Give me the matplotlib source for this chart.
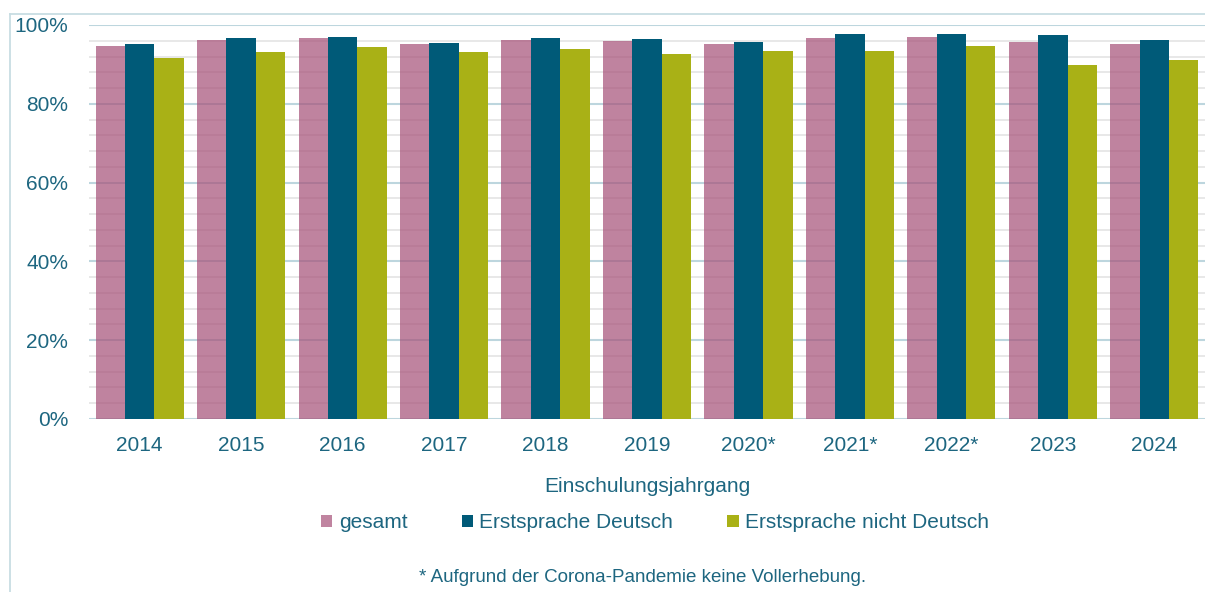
import matplotlib
matplotlib.use("Agg")
import matplotlib.pyplot as plt
import numpy as np
from matplotlib.ticker import MultipleLocator, FuncFormatter

years = ["2014", "2015", "2016", "2017", "2018", "2019", "2020*", "2021*", "2022*", "2023", "2024"]
gesamt = [94.7, 96.3, 96.6, 95.3, 96.3, 95.9, 95.3, 96.6, 97.0, 95.7, 95.1]
deutsch = [95.3, 96.8, 97.0, 95.5, 96.8, 96.5, 95.7, 97.7, 97.7, 97.5, 96.2]
nicht_deutsch = [91.6, 93.2, 94.3, 93.1, 93.9, 92.6, 93.4, 93.4, 94.7, 89.8, 91.1]
series_names = ["gesamt", "Erstsprache Deutsch", "Erstsprache nicht Deutsch"]

# pink drawn semi-transparent so gridlines show through (as in reference)
colors = ["#a54f77", "#005a78", "#a9b116"]
alphas = [0.7, 1.0, 1.0]
txt = "#1d6680"

plt.rcParams['font.family'] = ['Liberation Sans', 'DejaVu Sans']

fig = plt.figure(figsize=(12.05, 5.92), dpi=100)
ax = fig.add_axes([89/1205, 1-419/592, 1-89/1205, (419-25)/592])

x = np.arange(len(years))
w = 0.29
series = [gesamt, deutsch, nicht_deutsch]
for i, (vals, c, a, n) in enumerate(zip(series, colors, alphas, series_names)):
    ax.bar(x + (i-1)*w, vals, width=w, color=c, alpha=a, label=n, zorder=3, linewidth=0)

ax.set_xlim(-0.5, len(years)-0.5)
ax.set_ylim(0, 100)
ax.yaxis.set_major_locator(MultipleLocator(20))
ax.yaxis.set_minor_locator(MultipleLocator(4))
ax.yaxis.set_major_formatter(FuncFormatter(lambda v, p: f"{int(v)}%"))
ax.grid(axis='y', which='minor', color='#e6e6e6', lw=1.3, zorder=1)
ax.grid(axis='y', which='major', color='#bdd6de', lw=1.5, zorder=1)
ax.set_axisbelow(True)
for s in ax.spines.values():
    s.set_visible(False)
ax.tick_params(axis='both', which='both', length=0, colors=txt, labelsize=15)
ax.tick_params(axis='y', pad=15)
ax.tick_params(axis='x', pad=12)
ax.set_xticks(x)
ax.set_xticklabels(years)
ax.set_xlabel("Einschulungsjahrgang", color=txt, fontsize=15, labelpad=16)

leg = fig.legend(loc='center', bbox_to_anchor=(655/1205, 1-523/592), ncol=3, frameon=False,
                 fontsize=15, handlelength=0.55, handleheight=0.55, handletextpad=0.3,
                 columnspacing=2.6, labelcolor=txt)
for h in leg.legend_handles:
    h.set_alpha(None)
leg.legend_handles[0].set_color("#c084a0")

fig.text(643/1205, 1-577/592, "* Aufgrund der Corona-Pandemie keine Vollerhebung.",
         ha='center', va='center', color=txt, fontsize=13.5)

# outer frame
fig.add_artist(plt.Line2D([10/1205, 1], [1-14/592, 1-14/592], color='#c8dde3', lw=1.3, transform=fig.transFigure))
fig.add_artist(plt.Line2D([10/1205, 10/1205], [0, 1-14/592], color='#c8dde3', lw=1.3, transform=fig.transFigure))

fig.savefig("out.png", dpi=100)
